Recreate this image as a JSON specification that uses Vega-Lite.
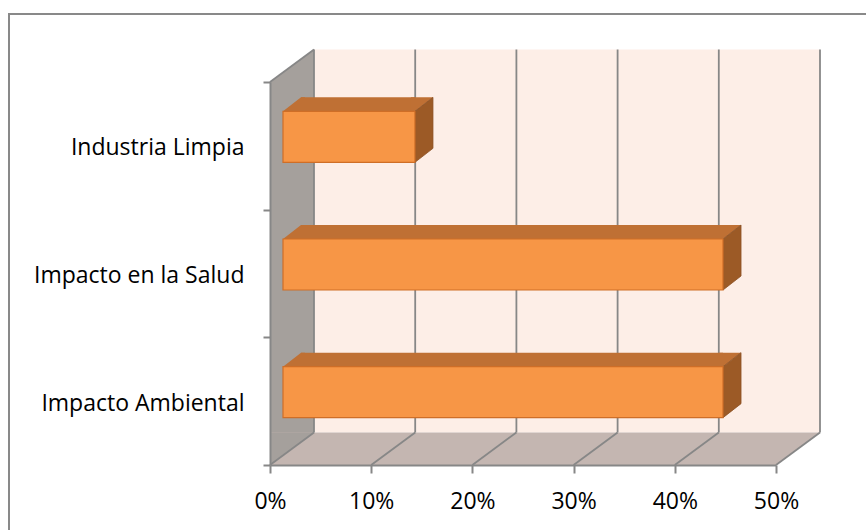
{
  "$schema": "https://vega.github.io/schema/vega-lite/v6.json",
  "width": 506,
  "height": 383,
  "autosize": {"type": "none"},
  "padding": {"left": 270, "top": 82, "right": 90, "bottom": 65},
  "background": "white",
  "config": {"view": {"stroke": null}, "font": "Open Sans"},
  "datasets": {
    "barras": [
      {"categoria": "Industria Limpia", "valor": 0.1304},
      {"categoria": "Impacto en la Salud", "valor": 0.4348},
      {"categoria": "Impacto Ambiental", "valor": 0.4348}
    ],
    "marcas": [{"v": 0}, {"v": 0.1}, {"v": 0.2}, {"v": 0.3}, {"v": 0.4}, {"v": 0.5}]
  },
  "layer": [
    {
      "layer": [
        {
          "data": {"values": [{}]},
          "mark": {"type": "rect", "filled": false, "stroke": "#898989", "strokeWidth": 2, "xOffset": -261, "x2Offset": 150, "yOffset": 120, "y2Offset": -68},
          "encoding": {
            "x": {"datum": 0, "type": "quantitative", "scale": {"domain": [0, 0.5], "nice": false}, "title": null},
            "x2": {"datum": 0.5},
            "y": {"datum": 0, "type": "quantitative", "scale": {"domain": [0, 3], "nice": false, "zero": false}, "axis": null},
            "y2": {"datum": 3}
          }
        },
        {
          "data": {"values": [{}]},
          "mark": {"type": "rect", "fill": "#FDEEE7", "xOffset": 44, "x2Offset": 44, "yOffset": -32.5, "y2Offset": -32.5},
          "encoding": {
            "x": {"datum": 0, "type": "quantitative", "scale": {"domain": [0, 0.5], "nice": false}, "title": null},
            "x2": {"datum": 0.5},
            "y": {"datum": 0, "type": "quantitative", "scale": {"domain": [0, 3], "nice": false, "zero": false}, "axis": null},
            "y2": {"datum": 3}
          }
        },
        {
          "data": {"values": [{}]},
          "mark": {"type": "rect", "fill": "#A5A09C", "x2Offset": 44, "y2Offset": -32.5},
          "encoding": {
            "x": {"datum": 0, "type": "quantitative", "scale": {"domain": [0, 0.5], "nice": false}, "title": null},
            "x2": {"datum": 0},
            "y": {"datum": 0, "type": "quantitative", "scale": {"domain": [0, 3], "nice": false, "zero": false}, "axis": null},
            "y2": {"datum": 3}
          }
        },
        {
          "data": {"values": [{}]},
          "mark": {"type": "rect", "fill": "#C4B6B1", "x2Offset": 44, "y2Offset": -32.5},
          "encoding": {
            "x": {"datum": 0, "type": "quantitative", "scale": {"domain": [0, 0.5], "nice": false}, "title": null},
            "x2": {"datum": 0.5},
            "y": {"datum": 0, "type": "quantitative", "scale": {"domain": [0, 3], "nice": false, "zero": false}, "axis": null},
            "y2": {"datum": 0}
          }
        },
        {
          "data": {"values": [{}]},
          "mark": {"type": "point", "shape": "M0,0L44,-32.5L0,-32.5Z", "size": 4, "filled": true, "fill": "#A5A09C", "opacity": 1, "strokeWidth": 0},
          "encoding": {
            "x": {"datum": 0, "type": "quantitative", "scale": {"domain": [0, 0.5], "nice": false}, "title": null},
            "y": {"datum": 0, "type": "quantitative", "scale": {"domain": [0, 3], "nice": false, "zero": false}, "axis": null}
          }
        },
        {
          "data": {"values": [{}]},
          "mark": {"type": "point", "shape": "M0,0L44,-32.5L44,-34L-2,-34L-2,0Z", "size": 4, "filled": true, "fill": "white", "opacity": 1, "strokeWidth": 0},
          "encoding": {
            "x": {"datum": 0, "type": "quantitative", "scale": {"domain": [0, 0.5], "nice": false}, "title": null},
            "y": {"datum": 3, "type": "quantitative", "scale": {"domain": [0, 3], "nice": false, "zero": false}, "axis": null}
          }
        },
        {
          "data": {"values": [{}]},
          "mark": {"type": "point", "shape": "M0,0L44,-32.5L47,-32.5L47,1L0,1Z", "size": 4, "filled": true, "fill": "white", "opacity": 1, "strokeWidth": 0},
          "encoding": {
            "x": {"datum": 0.5, "type": "quantitative", "scale": {"domain": [0, 0.5], "nice": false}, "title": null},
            "y": {"datum": 0, "type": "quantitative", "scale": {"domain": [0, 3], "nice": false, "zero": false}, "axis": null}
          }
        },
        {
          "data": {"name": "marcas"},
          "mark": {"type": "rule", "stroke": "#878787", "strokeWidth": 1.8, "xOffset": 44, "yOffset": -32.5, "y2Offset": -32.5},
          "encoding": {
            "x": {"field": "v", "type": "quantitative", "scale": {"domain": [0, 0.5], "nice": false}, "title": null},
            "y": {"datum": 0, "type": "quantitative", "scale": {"domain": [0, 3], "nice": false, "zero": false}, "axis": null},
            "y2": {"datum": 3}
          }
        },
        {
          "data": {"name": "marcas"},
          "mark": {"type": "rule", "stroke": "#878787", "strokeWidth": 1.8, "x2Offset": 44, "y2Offset": -32.5},
          "encoding": {
            "x": {"field": "v", "type": "quantitative", "scale": {"domain": [0, 0.5], "nice": false}, "title": null},
            "x2": {"field": "v"},
            "y": {"datum": 0, "type": "quantitative", "scale": {"domain": [0, 3], "nice": false, "zero": false}, "axis": null},
            "y2": {"datum": 0}
          }
        },
        {
          "data": {"values": [{}]},
          "mark": {"type": "rule", "stroke": "#878787", "strokeWidth": 1.8, "x2Offset": 44, "y2Offset": -32.5},
          "encoding": {
            "x": {"datum": 0, "type": "quantitative", "scale": {"domain": [0, 0.5], "nice": false}, "title": null},
            "x2": {"datum": 0},
            "y": {"datum": 3, "type": "quantitative", "scale": {"domain": [0, 3], "nice": false, "zero": false}, "axis": null},
            "y2": {"datum": 3}
          }
        }
      ]
    },
    {
      "data": {"name": "barras"},
      "layer": [
        {
          "mark": {"type": "bar", "orient": "horizontal", "height": 14, "yOffset": -41.5, "xOffset": 13, "x2Offset": 31, "fill": "#BF7034", "strokeWidth": 0},
          "encoding": {
            "x": {"field": "valor", "type": "quantitative", "scale": {"domain": [0, 0.5], "nice": false}, "title": null},
            "x2": {"datum": 0},
            "y": {"field": "categoria", "type": "nominal", "scale": {"domain": ["Industria Limpia", "Impacto en la Salud", "Impacto Ambiental"], "paddingInner": 0, "paddingOuter": 0},
                  "axis": {"orient": "left", "title": null, "tickBand": "extent", "domainColor": "#878787", "domainWidth": 2, "tickColor": "#878787", "tickWidth": 2, "tickSize": 7, "labelFont": "Open Sans", "labelFontSize": 23, "labelColor": "#000000", "labelPadding": 19, "labelLimit": 400, "labelOffset": 2, "zindex": 1}}
          }
        },
        {
          "mark": {"type": "point", "shape": "M13,-34.5L35,-34.5L35,-48.5L31,-48.5Z", "size": 4, "filled": true, "fill": "#BF7034", "opacity": 1, "strokeWidth": 0},
          "encoding": {
            "x": {"datum": 0, "type": "quantitative", "scale": {"domain": [0, 0.5], "nice": false}, "title": null},
            "y": {"field": "categoria", "type": "nominal", "scale": {"domain": ["Industria Limpia", "Impacto en la Salud", "Impacto Ambiental"], "paddingInner": 0, "paddingOuter": 0}}
          }
        },
        {
          "mark": {"type": "point", "shape": "M9,-34.5L13,-34.5L31,-48.5L9,-48.5Z", "size": 4, "filled": true, "fill": "#BF7034", "opacity": 1, "strokeWidth": 0},
          "encoding": {
            "x": {"field": "valor", "type": "quantitative", "scale": {"domain": [0, 0.5], "nice": false}, "title": null},
            "y": {"field": "categoria", "type": "nominal", "scale": {"domain": ["Industria Limpia", "Impacto en la Salud", "Impacto Ambiental"], "paddingInner": 0, "paddingOuter": 0}}
          }
        },
        {
          "mark": {"type": "point", "shape": "M13,-34.5L31,-48.5L31,2.5L13,16.5Z", "size": 4, "filled": true, "fill": "#9C5A26", "opacity": 1, "stroke": "#8A4F22", "strokeWidth": 0.8},
          "encoding": {
            "x": {"field": "valor", "type": "quantitative", "scale": {"domain": [0, 0.5], "nice": false}, "title": null},
            "y": {"field": "categoria", "type": "nominal", "scale": {"domain": ["Industria Limpia", "Impacto en la Salud", "Impacto Ambiental"], "paddingInner": 0, "paddingOuter": 0}}
          }
        },
        {
          "mark": {"type": "bar", "orient": "horizontal", "height": 51, "yOffset": -9, "xOffset": 13, "x2Offset": 13, "fill": "#F79646", "stroke": "#CF6E27", "strokeWidth": 1.2},
          "encoding": {
            "x": {"field": "valor", "type": "quantitative", "scale": {"domain": [0, 0.5], "nice": false},
                  "axis": {"values": [0, 0.1, 0.2, 0.3, 0.4, 0.5], "format": ".0%", "title": null, "grid": false, "domainColor": "#878787", "domainWidth": 2, "tickColor": "#878787", "tickWidth": 2, "tickSize": 8, "labelFont": "Open Sans", "labelFontSize": 23, "labelColor": "#000000", "labelPadding": 17, "labelFlush": false, "labelOverlap": false, "zindex": 1}},
            "x2": {"datum": 0},
            "y": {"field": "categoria", "type": "nominal", "scale": {"domain": ["Industria Limpia", "Impacto en la Salud", "Impacto Ambiental"], "paddingInner": 0, "paddingOuter": 0}}
          }
        }
      ]
    }
  ],
  "resolve": {"scale": {"y": "independent"}, "axis": {"y": "independent"}}
}
